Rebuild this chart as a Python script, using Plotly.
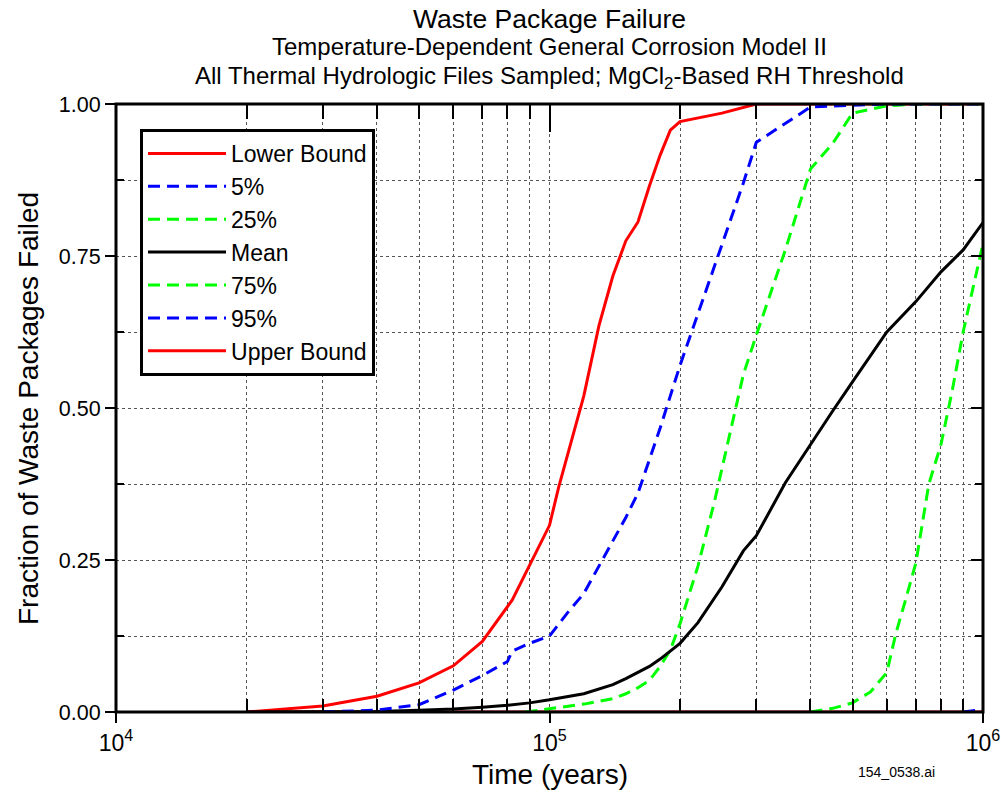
import plotly.graph_objects as go

# ---------------- data ----------------
t_lower = [2e4, 1e6]
lower = [0.0, 0.0]

t_p05 = [9e5, 1e6]
p05 = [0.0, 0.004]

t_p25 = [4e5, 4.5e5, 5e5, 5.5e5, 6e5, 6.3e5, 6.6e5, 7e5, 7.5e5, 8e5, 8.5e5, 9e5, 9.5e5, 1e6]
p25 = [0.0, 0.006, 0.015, 0.033, 0.065, 0.13, 0.18, 0.245, 0.375, 0.44, 0.53, 0.625, 0.70, 0.77]

t_mean = [2e4, 3e4, 4e4, 5e4, 6e4, 7e4, 8e4, 9e4, 1e5, 1.2e5, 1.4e5, 1.5e5, 1.6e5, 1.7e5, 1.8e5,
          1.9e5, 2e5, 2.2e5, 2.5e5, 2.8e5, 3e5, 3.5e5, 4e5, 4.5e5, 5e5, 6e5, 7e5, 8e5, 9e5, 1e6]
mean = [0.0, 0.0005, 0.001, 0.003, 0.005, 0.008, 0.011, 0.015, 0.02, 0.03, 0.045, 0.055, 0.065, 0.075, 0.087,
        0.10, 0.113, 0.147, 0.206, 0.265, 0.29, 0.377, 0.44, 0.495, 0.543, 0.625, 0.675, 0.724, 0.76, 0.805]

t_p75 = [8.8e4, 1e5, 1.2e5, 1.4e5, 1.5e5, 1.6e5, 1.7e5, 1.8e5, 1.9e5, 2e5, 2.2e5, 2.4e5, 2.6e5, 2.8e5,
         3e5, 3.5e5, 4e5, 4.5e5, 5e5, 6e5, 7e5, 1e6]
p75 = [0.0, 0.005, 0.013, 0.022, 0.03, 0.04, 0.052, 0.075, 0.102, 0.145, 0.24, 0.345, 0.455, 0.555,
       0.62, 0.76, 0.893, 0.935, 0.985, 0.997, 1.0, 1.0]

t_p95 = [3e4, 4e4, 5e4, 6e4, 7e4, 8e4, 8.2e4, 9e4, 1e5, 1.1e5, 1.2e5, 1.3e5, 1.4e5, 1.5e5, 1.6e5, 1.7e5,
         1.8e5, 1.9e5, 2e5, 2.2e5, 2.5e5, 2.8e5, 3e5, 3.5e5, 4e5, 5e5, 6e5, 1e6]
p95 = [0.0, 0.003, 0.012, 0.036, 0.06, 0.083, 0.10, 0.113, 0.125, 0.163, 0.195, 0.24, 0.28, 0.32, 0.36, 0.414,
       0.467, 0.52, 0.57, 0.655, 0.77, 0.87, 0.937, 0.968, 0.995, 0.998, 1.0, 1.0]

t_upper = [2e4, 3e4, 4e4, 5e4, 6e4, 7e4, 8.2e4, 1e5, 1.05e5, 1.1e5, 1.2e5, 1.3e5, 1.4e5, 1.5e5, 1.6e5,
           1.7e5, 1.8e5, 1.9e5, 2e5, 2.5e5, 3e5, 1e6]
upper = [0.0, 0.010, 0.026, 0.048, 0.076, 0.116, 0.184, 0.307, 0.37, 0.421, 0.52, 0.635, 0.717, 0.775, 0.806,
         0.865, 0.916, 0.957, 0.971, 0.985, 1.0, 1.0]

x_major = [1e4, 1e5, 1e6]
x_major_text = ["10<sup>4</sup>", "10<sup>5</sup>", "10<sup>6</sup>"]
x_minor = [m * d for d in (1e4, 1e5) for m in range(2, 10)]
y_major = [0.0, 0.25, 0.5, 0.75, 1.0]
y_major_text = ["0.00", "0.25", "0.50", "0.75", "1.00"]
y_minor = [0.125, 0.375, 0.625, 0.875]

FONT = "Liberation Sans, Arial, sans-serif"
RED, BLUE, GREEN, BLACK = "#ff0000", "#0000ff", "#00ff00", "#000000"
DASH = "12px,7px"

fig = go.Figure()

def add(name, x, y, color, dash, rank):
    fig.add_trace(go.Scatter(x=x, y=y, name=name, mode="lines", legendrank=rank,
                             line=dict(color=color, width=3, dash=dash)))

# drawing order (blue drawn above red, as in the reference); legend order via legendrank
add("Lower Bound", t_lower, lower, RED, "solid", 1)
add("Upper Bound", t_upper, upper, RED, "solid", 7)
add("5%", t_p05, p05, BLUE, DASH, 2)
add("25%", t_p25, p25, GREEN, DASH, 3)
add("75%", t_p75, p75, GREEN, DASH, 5)
add("Mean", t_mean, mean, BLACK, "solid", 4)
add("95%", t_p95, p95, BLUE, DASH, 6)

# helper trace so the overlay (top / right tick) axes are drawn
fig.add_trace(go.Scatter(x=[1e5], y=[None], xaxis="x2", yaxis="y2", mode="lines",
                         showlegend=False, hoverinfo="skip"))

grid = dict(showgrid=True, gridcolor="#555555", gridwidth=1, griddash="3px,3px")

fig.update_layout(
    width=1001, height=794,
    margin=dict(l=116, r=18, t=104, b=82, autoexpand=False),
    paper_bgcolor="white", plot_bgcolor="white",
    font=dict(family=FONT, color="black"),
    showlegend=True,
    legend=dict(x=0.0277, y=0.959, xanchor="left", yanchor="top",
                bgcolor="white", bordercolor="black", borderwidth=3,
                font=dict(size=23, family=FONT), itemwidth=78, traceorder="normal"),
    xaxis=dict(type="log", range=[4, 6], tickvals=x_major, ticktext=x_major_text,
               ticks="outside", ticklen=10, tickwidth=2, tickcolor="black", automargin=False,
               tickfont=dict(size=23, family=FONT), showline=False, zeroline=False,
               minor=dict(tickvals=x_minor, ticks="inside", ticklen=13, tickwidth=2,
                          tickcolor="black", **grid),
               **grid),
    xaxis2=dict(type="log", range=[4, 6], overlaying="x", side="top", anchor="y",
                tickvals=[1e5], ticks="inside", ticklen=28, tickwidth=2, tickcolor="black",
                showticklabels=False, showgrid=False, zeroline=False, showline=False,
                automargin=False,
                minor=dict(tickvals=x_minor, ticks="inside", ticklen=15, tickwidth=2,
                           tickcolor="black", showgrid=False)),
    yaxis=dict(range=[0, 1], tickvals=y_major, ticktext=y_major_text,
               ticks="outside", ticklen=10, tickwidth=2, tickcolor="black", automargin=False,
               tickfont=dict(size=21.5, family=FONT), showline=False, zeroline=False,
               minor=dict(tickvals=y_minor, ticks="inside", ticklen=8, tickwidth=2,
                          tickcolor="black", **grid),
               **grid),
    yaxis2=dict(range=[0, 1], overlaying="y", side="right", anchor="x2",
                tickvals=y_major, ticks="inside", ticklen=12, tickwidth=2, tickcolor="black",
                showticklabels=False, showgrid=False, zeroline=False, showline=False,
                automargin=False,
                minor=dict(tickvals=y_minor, ticks="inside", ticklen=8, tickwidth=2,
                           tickcolor="black", showgrid=False)),
    shapes=[dict(type="rect", xref="paper", yref="paper", x0=0, x1=1, y0=0, y1=1,
                 line=dict(color="black", width=3), layer="above")],
    annotations=[
        dict(text="Waste Package Failure", x=0.5, y=1.1398, xref="paper", yref="paper",
             showarrow=False, font=dict(size=26.5, family=FONT), yanchor="middle"),
        dict(text="Temperature-Dependent General Corrosion Model II", x=0.5, y=1.0938,
             xref="paper", yref="paper", showarrow=False, font=dict(size=24, family=FONT),
             yanchor="middle"),
        dict(text="All Thermal Hydrologic Files Sampled; MgCl<sub>2</sub>-Based RH Threshold",
             x=0.5, y=1.0428, xref="paper", yref="paper", showarrow=False,
             font=dict(size=24, family=FONT), yanchor="middle"),
        dict(text="Time (years)", x=0.5, y=-0.1036, xref="paper", yref="paper",
             showarrow=False, font=dict(size=28, family=FONT), yanchor="middle"),
        dict(text="Fraction of Waste Packages Failed", x=-0.1015, y=0.5, xref="paper",
             yref="paper", showarrow=False, textangle=-90, font=dict(size=28, family=FONT),
             xanchor="center", yanchor="middle"),
        dict(text="154_0538.ai", x=0.947, y=-0.0987, xref="paper", yref="paper",
             showarrow=False, font=dict(size=14, family=FONT), yanchor="middle"),
    ],
)

# remove the browser's default 8px body margin so the 1001x794 figure fills the window
fig.write_html("out.html", config={"displayModeBar": False},
               post_script="document.body.style.margin='0';")
